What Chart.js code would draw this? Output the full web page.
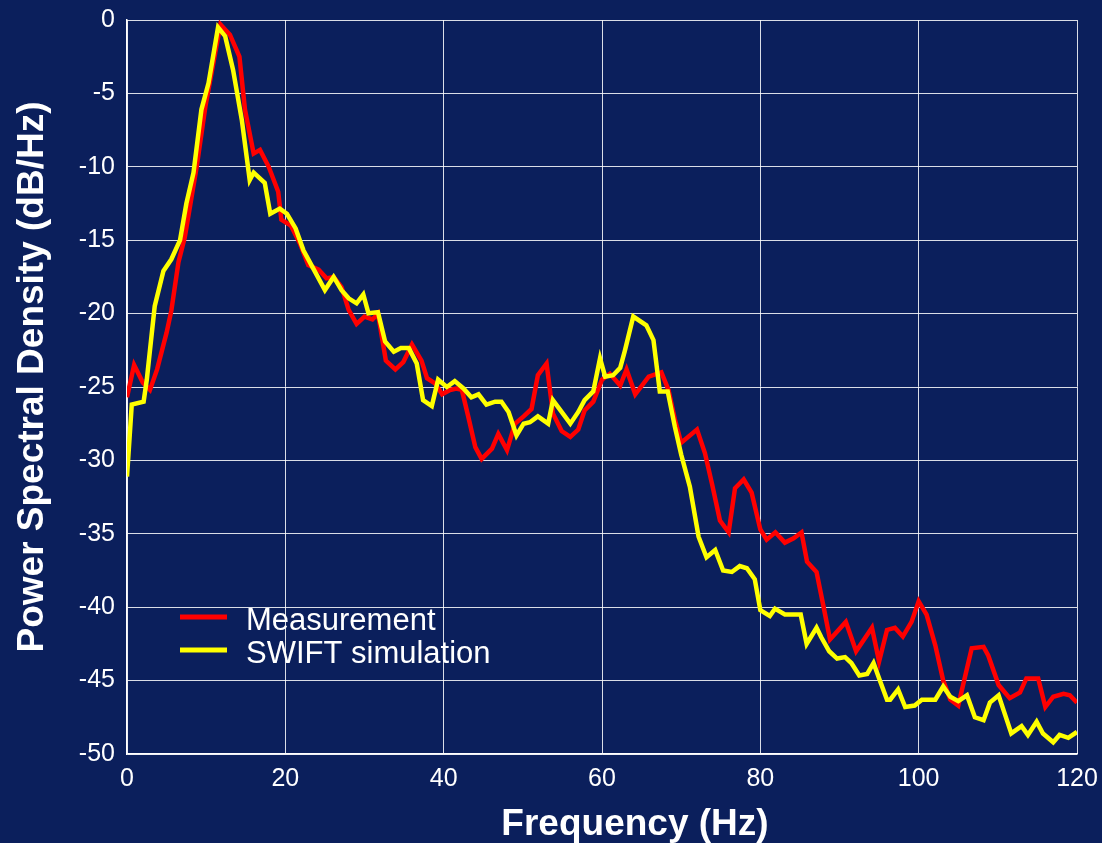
<!DOCTYPE html>
<html>
<head>
<meta charset="utf-8">
<script src="https://cdn.jsdelivr.net/npm/chart.js@4.4.1/dist/chart.umd.min.js"></script>
<style>
  html, body { margin: 0; padding: 0; background: #0b1f5c; }
  #wrap { width: 1102px; height: 843px; position: relative; }
</style>
</head>
<body>
<div id="wrap"><canvas id="chart"></canvas></div>
<script>
// valeurs (Hz, dB/Hz)
const measFreq = [0, 0.9, 2.0, 2.9, 3.8, 5.0, 5.6, 6.5, 7.3, 8.8, 9.9, 11.8, 13.0, 14.2, 14.9, 16.0, 16.8, 17.9, 19.1, 19.5,
  20.7, 21.9, 22.9, 24.2, 25.2, 26.1, 27.1, 28.0, 29.0, 30.0, 31.0, 31.7, 32.7, 33.9, 34.9, 36.0, 37.2, 37.9, 38.9, 39.8,
  40.8, 41.6, 42.3, 43.1, 44.0, 44.8, 46.1, 46.9, 48.0, 49.0, 50.1, 51.1, 51.9, 53.0, 53.8, 54.9, 56.0, 57.0, 57.8, 58.9,
  60.0, 61.0, 62.3, 63.1, 64.2, 65.9, 67.5, 68.4, 69.2, 70.0, 72.0, 73.0, 73.9, 74.9, 76.0, 76.8, 77.9, 78.9, 80.0, 80.8,
  81.9, 83.1, 84.2, 85.2, 85.9, 87.1, 88.0, 88.8, 90.8, 92.1, 94.1, 95.0, 96.0, 97.0, 98.0, 99.1, 100.0, 101.0, 102.1, 103.1,
  104.0, 105.0, 106.7, 108.2, 108.8, 110.1, 111.5, 112.8, 113.6, 115.1, 116.0, 117.0, 118.3, 119.1, 120.0];
const measPsd = [-25.7, -23.5, -24.7, -25.2, -23.8, -21.3, -19.8, -16.5, -14.8, -10.0, -5.9, -0.3, -1.0, -2.5, -6.1, -9.1, -8.85, -10.0, -11.7, -13.6,
  -14.0, -15.3, -16.7, -17.0, -17.6, -17.5, -18.2, -19.75, -20.7, -20.2, -20.4, -20.0, -23.2, -23.8, -23.3, -22.1, -23.2, -24.4, -24.75, -25.5,
  -25.2, -25.1, -25.2, -27.0, -29.1, -29.9, -29.2, -28.2, -29.3, -27.5, -27.0, -26.5, -24.2, -23.4, -26.8, -28.0, -28.4, -27.9, -26.6, -26.0,
  -24.5, -24.1, -24.9, -23.8, -25.5, -24.3, -24.0, -25.2, -27.2, -28.8, -27.9, -29.5, -31.6, -34.1, -34.9, -31.9, -31.3, -32.2, -34.7, -35.4,
  -34.9, -35.6, -35.3, -34.9, -36.9, -37.6, -40.0, -42.2, -41.0, -43.0, -41.4, -43.7, -41.55, -41.4, -42.0, -41.0, -39.6, -40.5, -42.6, -45.0,
  -46.3, -46.7, -42.8, -42.7, -43.3, -45.3, -46.2, -45.8, -44.85, -44.85, -46.8, -46.1, -45.9, -46.0, -46.5];

const simFreq = [0, 0.6, 2.1, 2.5, 3.5, 4.6, 5.6, 6.7, 7.5, 8.4, 9.4, 10.3, 11.5, 12.4, 13.4, 14.5, 15.5, 16.0, 17.4, 18.1,
  19.3, 20.2, 21.3, 22.3, 23.5, 25.0, 26.1, 27.1, 28.0, 29.0, 29.85, 30.5, 31.7, 32.6, 33.7, 34.6, 35.6, 36.6, 37.4, 38.5,
  39.3, 40.4, 41.4, 42.5, 43.5, 44.4, 45.4, 46.5, 47.3, 48.2, 49.2, 50.1, 50.9, 51.9, 53.2, 53.8, 54.9, 56.0, 57.0, 57.8,
  58.9, 59.75, 60.4, 61.4, 62.3, 62.9, 63.95, 65.6, 66.5, 67.3, 68.3, 69.2, 70.0, 71.1, 72.2, 73.2, 74.3, 75.3, 76.4, 77.4,
  78.3, 79.3, 80.0, 81.2, 81.85, 83.1, 85.1, 85.85, 87.1, 87.7, 88.7, 89.7, 90.7, 91.5, 92.5, 93.5, 94.3, 95.1, 96.0, 96.4,
  97.4, 98.3, 99.5, 100.4, 102.1, 103.1, 104.0, 105.0, 106.1, 107.1, 108.2, 109.0, 110.1, 110.9, 111.7, 113.0, 113.8, 114.9, 115.7, 117.0,
  117.8, 118.9, 120.0];
const simPsd = [-31.1, -26.2, -26.0, -24.5, -19.5, -17.1, -16.3, -15.0, -12.5, -10.4, -6.1, -4.3, -0.5, -1.1, -3.4, -6.8, -10.9, -10.4, -11.1, -13.2,
  -12.85, -13.2, -14.2, -15.7, -16.9, -18.4, -17.5, -18.4, -18.96, -19.3, -18.7, -19.98, -19.9, -21.9, -22.6, -22.35, -22.35, -23.4, -25.9, -26.3,
  -24.5, -25.0, -24.6, -25.1, -25.7, -25.5, -26.2, -26.0, -26.0, -26.7, -28.3, -27.5, -27.4, -27.0, -27.5, -25.9, -26.7, -27.5, -26.7, -25.9,
  -25.3, -23.05, -24.3, -24.2, -23.7, -22.5, -20.2, -20.8, -21.8, -25.3, -25.3, -27.7, -29.6, -31.8, -35.2, -36.6, -36.1, -37.5, -37.6, -37.2,
  -37.35, -38.1, -40.2, -40.6, -40.1, -40.5, -40.5, -42.5, -41.4, -42.05, -43.0, -43.5, -43.4, -43.8, -44.65, -44.55, -43.8, -45.0, -46.3, -46.3,
  -45.6, -46.8, -46.7, -46.3, -46.3, -45.4, -46.1, -46.4, -46.0, -47.5, -47.7, -46.5, -46.0, -47.3, -48.6, -48.1, -48.7, -47.8, -48.6, -49.2,
  -48.7, -48.9, -48.5];

const seriesNames = ['Measurement', 'SWIFT simulation'];
const seriesColors = ['#ff0000', '#ffff00'];
const xTitle = 'Frequency (Hz)';
const yTitle = 'Power Spectral Density (dB/Hz)';

const BG = '#0b1f5c';
const FONT = '"Liberation Sans", Arial, Helvetica, sans-serif';

function toPoints(xs, ys) {
  return xs.map((x, i) => ({ x: x, y: ys[i] }));
}

// fond, titres des axes et légende dessinés à la main
const decor = {
  id: 'decor',
  beforeDraw(chart) {
    const ctx = chart.ctx;
    ctx.save();
    ctx.fillStyle = BG;
    ctx.fillRect(0, 0, chart.width, chart.height);
    ctx.restore();
  },
  afterDraw(chart) {
    const ctx = chart.ctx;
    ctx.save();
    ctx.fillStyle = '#ffffff';
    ctx.font = 'bold 37px ' + FONT;
    ctx.textAlign = 'center';
    ctx.textBaseline = 'alphabetic';
    ctx.fillText(xTitle, 635, 835);
    ctx.translate(43, 377);
    ctx.rotate(-Math.PI / 2);
    ctx.fillText(yTitle, 0, 0);
    ctx.restore();

    ctx.save();
    ctx.font = '31px ' + FONT;
    ctx.textAlign = 'left';
    ctx.textBaseline = 'alphabetic';
    const rows = [617, 650];
    seriesNames.forEach((name, i) => {
      ctx.strokeStyle = seriesColors[i];
      ctx.lineWidth = 5;
      ctx.beginPath();
      ctx.moveTo(180, rows[i]);
      ctx.lineTo(227, rows[i]);
      ctx.stroke();
      ctx.fillStyle = '#ffffff';
      ctx.fillText(name, 246, rows[i] + 13);
    });
    ctx.restore();
  }
};

const ctx = document.getElementById('chart').getContext('2d');
const myChart = new Chart(ctx, {
  type: 'line',
  data: {
    datasets: [{
      label: seriesNames[0],
      data: toPoints(measFreq, measPsd),
      borderColor: seriesColors[0],
      borderWidth: 4.5,
      pointRadius: 0,
      tension: 0,
      fill: false,
      order: 1
    }, {
      label: seriesNames[1],
      data: toPoints(simFreq, simPsd),
      borderColor: seriesColors[1],
      borderWidth: 4.5,
      pointRadius: 0,
      tension: 0,
      fill: false,
      order: 0
    }]
  },
  options: {
    responsive: true,
    maintainAspectRatio: false,
    animation: false,
    layout: { padding: { top: 20, right: 25, left: 0, bottom: 0 } },
    plugins: {
      legend: { display: false },
      tooltip: { enabled: false }
    },
    scales: {
      x: {
        type: 'linear',
        min: 0,
        max: 120,
        afterFit(scale) {
          scale.height = 89;
          scale.paddingLeft = 0;
          scale.paddingRight = 0;
        },
        ticks: {
          stepSize: 20,
          color: '#ffffff',
          padding: 10,
          maxRotation: 0,
          font: { family: FONT, size: 25 }
        },
        grid: { color: 'rgba(255,255,255,0.85)', lineWidth: 1, drawTicks: false },
        border: { color: '#ffffff', width: 1.5 }
      },
      y: {
        min: -50,
        max: 0,
        afterFit(scale) {
          scale.width = 127;
          scale.paddingTop = 0;
          scale.paddingBottom = 0;
        },
        ticks: {
          stepSize: 5,
          color: '#ffffff',
          padding: 12,
          font: { family: FONT, size: 25 }
        },
        grid: { color: 'rgba(255,255,255,0.85)', lineWidth: 1, drawTicks: false },
        border: { color: '#ffffff', width: 1.5 }
      }
    }
  },
  plugins: [decor]
});
</script>
</body>
</html>
